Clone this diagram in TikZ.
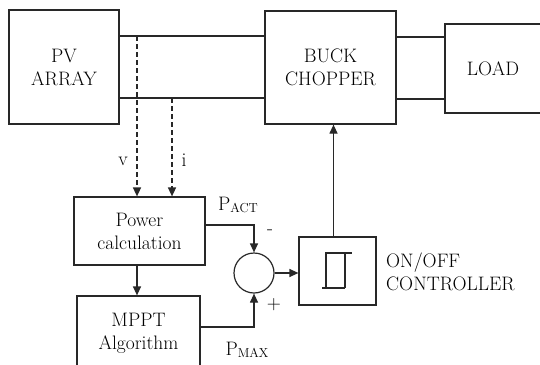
\documentclass[tikz,border=0pt]{standalone}
\usepackage{tikz}
\usetikzlibrary{arrows.meta,calc}
\definecolor{lncol}{RGB}{40,40,40}
\newcommand{\sublbl}[1]{{\fontsize{13}{13}\selectfont\raisebox{-2pt}{#1}}}

\begin{document}
\begin{tikzpicture}[x=1pt,y=-1pt,
    blk/.style={draw=lncol, line width=1.2pt, align=center, inner sep=0pt,
                font=\fontsize{19.5}{23}\selectfont},
    lbl/.style={inner sep=0pt, font=\fontsize{19.5}{23}\selectfont},
    conn/.style={draw=lncol, line width=1.2pt},
    arr/.style={conn, -{Triangle[length=9pt,width=8pt]}},
    sens/.style={arr, dash pattern=on 5pt off 3pt, line width=1.5pt}]
    \clip (0,0) rectangle (540,364);
    \fill[white] (0,0) rectangle (540,364);
    % power stage
    \node[blk, minimum width=110pt, minimum height=114pt] (pv) at (64,67) {PV\\ARRAY};
    \node[blk, minimum width=131pt, minimum height=113pt] (buck) at (330.5,67.5) {BUCK\\CHOPPER};
    \node[blk, minimum width=96pt, minimum height=89pt] (load) at (493,68.5) {LOAD};
    \draw[conn] ([yshift=31pt]pv.east) -- ([yshift=31pt]pv.east -| buck.west);
    \draw[conn] ([yshift=-31pt]pv.east) -- ([yshift=-31pt]pv.east -| buck.west);
    \draw[conn] ([yshift=30.5pt]buck.east) -- ([yshift=30.5pt]buck.east -| load.west);
    \draw[conn] ([yshift=-31.5pt]buck.east) -- ([yshift=-31.5pt]buck.east -| load.west);
    % control loop
    \node[blk, minimum width=131pt, minimum height=68pt] (power) at (139.5,231) {Power\\calculation};
    \node[blk, minimum width=123pt, minimum height=74pt] (mppt) at (138.5,333) {MPPT\\Algorithm};
    \node[draw=lncol, line width=1.2pt, circle, minimum size=40pt, inner sep=0pt] (sum) at (254,273) {};
    \node[blk, minimum width=77pt, minimum height=68pt] (onoff) at (337.5,271) {};
    \node[lbl, anchor=west, align=left] (onofflbl) at (386,272) {ON/OFF\\CONTROLLER};
    \draw[conn, shift={(onoff.center)}] (-15.5,17) -- (7.5,17)
        (-11.5,17) -- (-11.5,-18) -- (14.5,-18) (7.5,-18) -- (7.5,17);
    \coordinate (vtap) at (137,36);
    \coordinate (itap) at (172,98);
    \draw[sens] (vtap) -- (vtap |- power.north);
    \draw[sens] (itap) -- (itap |- power.north);
    \node[lbl] (vlbl) at (123,161) {v};
    \node[lbl] (ilbl) at (184,160) {i};
    \draw[arr] (power.south -| vtap) -- (mppt.north -| vtap);
    \draw[arr] ([yshift=6pt]power.east) -| (sum.north);
    \draw[arr] ([yshift=6pt]mppt.east) -| (sum.south);
    \draw[arr] (sum.east) -- (sum.east -| onoff.west);
    \draw[arr] ([xshift=-4pt]onoff.north) -- ([xshift=-4pt]onoff.north |- buck.south);
    \node[lbl] (pact) at (238,205) {P\sublbl{ACT}};
    \node[lbl] (pmax) at (247,350) {P\sublbl{MAX}};
    \node[lbl] (minus) at (270,232) {-};
    \node[lbl] (plus) at (274,305) {+};
\end{tikzpicture}
\end{document}
